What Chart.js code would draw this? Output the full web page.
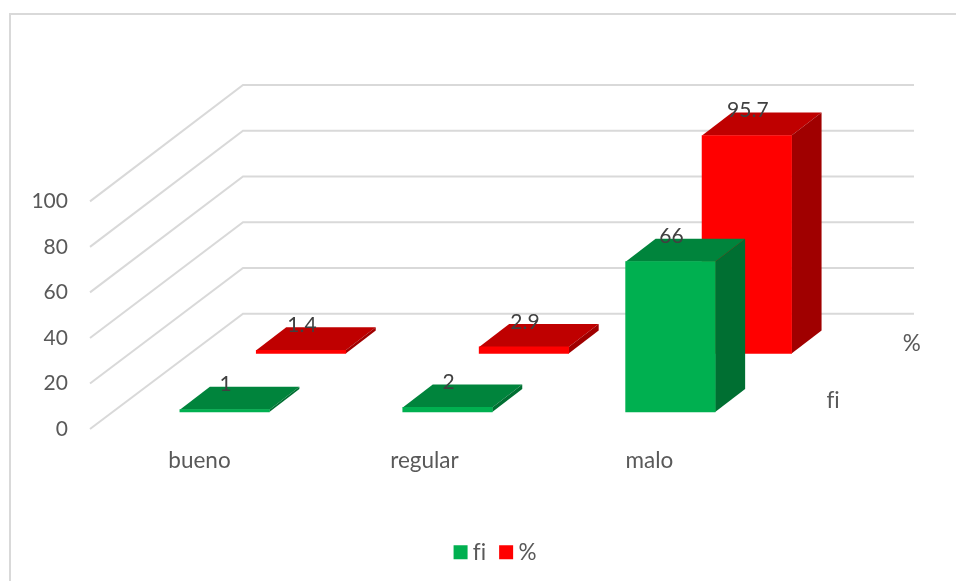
<!DOCTYPE html>
<html lang="es">
<head>
<meta charset="utf-8">
<title>fi y % por categoría</title>
<script src="https://cdn.jsdelivr.net/npm/chart.js@4"></script>
<style>
  html, body { margin: 0; padding: 0; background: #ffffff; overflow: hidden; }
  #box { width: 956px; height: 581px; }
</style>
</head>
<body>
<div id="box"><canvas id="chart" width="956" height="581"></canvas></div>
<script>
// Values shown by the chart
const categories = ['bueno', 'regular', 'malo'];
const fiValues = [1, 2, 66];
const pctValues = [1.4, 2.9, 95.7];
const axisTicks = [0, 20, 40, 60, 80, 100];

// Colour of each bar face per series
const faces = {
  fi: { front: '#00b050', top: '#00843c', side: '#006f32' },
  pct: { front: '#ff0000', top: '#bf0000', side: '#a00000' }
};
const TEXT = '#595959';
const VALUE_TEXT = '#404040';
const GRID = '#d9d9d9';
const FONT = 'Lato, "Open Sans", sans-serif';
const NUMBER_SIZE = 21;
const WORD_SIZE = 22.5;

// Oblique projection of a bar's depth and of the floor
const DEPTH_X = 30;
const DEPTH_Y = -23;
const FLOOR_DEPTH_X = 153;

// Sides and tops sit behind each series' front faces
const boxFaces = {
  id: 'boxFaces',
  beforeDatasetDraw(chart, args) {
    const ctx = chart.ctx;
    const colors = chart.data.datasets[args.index].faces;
    args.meta.data.forEach((bar) => {
      const half = bar.width / 2;
      const l = bar.x - half, r = bar.x + half, t = bar.y, b = bar.base;
      ctx.save();
      ctx.fillStyle = colors.top;
      ctx.beginPath();
      ctx.moveTo(l, t);
      ctx.lineTo(l + DEPTH_X, t + DEPTH_Y);
      ctx.lineTo(r + DEPTH_X, t + DEPTH_Y);
      ctx.lineTo(r, t);
      ctx.closePath();
      ctx.fill();
      ctx.fillStyle = colors.side;
      ctx.beginPath();
      ctx.moveTo(r, t);
      ctx.lineTo(r + DEPTH_X, t + DEPTH_Y);
      ctx.lineTo(r + DEPTH_X, b + DEPTH_Y);
      ctx.lineTo(r, b);
      ctx.closePath();
      ctx.fill();
      ctx.restore();
    });
  }
};

// Frame, floor diagonals and back wall lines
const wall = {
  id: 'wall',
  beforeUpdate(chart) {
    // A tiny spacing keeps "fi" as two separate letters instead of a ligature
    chart.ctx.letterSpacing = '0.01px';
  },
  afterLayout(chart) {
    // The legend is centred under the plot floor rather than the whole canvas
    chart.legend.left += 72;
  },
  beforeDraw(chart) {
    const ctx = chart.ctx;
    ctx.letterSpacing = '0.01px';
    ctx.save();
    ctx.fillStyle = '#ffffff';
    ctx.fillRect(0, 0, chart.width, chart.height);
    ctx.strokeStyle = GRID;
    ctx.lineWidth = 2;
    ctx.strokeRect(10, 14, chart.width + 20, chart.height + 20);
    ctx.restore();
  },
  beforeDatasetsDraw(chart) {
    const ctx = chart.ctx;
    const front = chart.scales.yAxis;
    const back = chart.scales.yWall;
    const area = chart.chartArea;
    const corner = area.left + FLOOR_DEPTH_X;
    ctx.save();
    ctx.strokeStyle = GRID;
    ctx.lineWidth = 2;
    axisTicks.forEach((v) => {
      const yBack = back.getPixelForValue(v);
      ctx.beginPath();
      ctx.moveTo(area.left, front.getPixelForValue(v));
      ctx.lineTo(corner, yBack);
      ctx.lineTo(area.right, yBack);
      ctx.stroke();
    });
    ctx.restore();
  },
  afterDatasetsDraw(chart) {
    const ctx = chart.ctx;
    ctx.save();
    ctx.textAlign = 'center';
    ctx.textBaseline = 'middle';
    // Value labels over each bar
    ctx.font = NUMBER_SIZE + 'px ' + FONT;
    ctx.fillStyle = VALUE_TEXT;
    [1, 0].forEach((d) => {
      const ds = chart.data.datasets[d];
      chart.getDatasetMeta(d).data.forEach((bar, i) => {
        ctx.fillText(String(ds.data[i].y), bar.x + 1, bar.y - 25);
      });
    });
    // Series names along the depth axis
    ctx.font = WORD_SIZE + 'px ' + FONT;
    ctx.fillStyle = TEXT;
    const s = chart.scales;
    ctx.fillText(chart.data.datasets[0].label, s.xFi.getPixelForValue(2.73), s.yFi.getPixelForValue(4.85));
    ctx.fillText(chart.data.datasets[1].label, s.xPct.getPixelForValue(2.74), s.yPct.getPixelForValue(4.2));
    ctx.restore();
  }
};

const toPoints = (values) => values.map((y, x) => ({ x, y }));
const hiddenScale = (axis, min, max) => ({
  axis,
  type: 'linear',
  display: false,
  offset: false,
  min,
  max,
  position: axis === 'x' ? 'bottom' : 'left'
});

new Chart(document.getElementById('chart'), {
  type: 'bar',
  data: {
    datasets: [
      {
        label: 'fi',
        data: toPoints(fiValues),
        xAxisID: 'xFi',
        yAxisID: 'yFi',
        backgroundColor: faces.fi.front,
        faces: faces.fi,
        barThickness: 89.5,
        grouped: false,
        order: 0
      },
      {
        label: '%',
        data: toPoints(pctValues),
        xAxisID: 'xPct',
        yAxisID: 'yPct',
        backgroundColor: faces.pct.front,
        faces: faces.pct,
        barThickness: 89.5,
        grouped: false,
        order: 1
      }
    ]
  },
  plugins: [wall, boxFaces],
  options: {
    responsive: false,
    animation: false,
    events: [],
    layout: { padding: { left: 10, right: 42, top: 85, bottom: 7.5 } },
    scales: {
      // One horizontal and one vertical scale per depth row
      xFi: hiddenScale('x', -0.604, 3.093),
      xPct: hiddenScale('x', -0.9466, 2.75),
      yFi: hiddenScale('y', -7.49, 143.6),
      yPct: hiddenScale('y', -33.17, 117.93),
      yWall: hiddenScale('y', -50.44, 100),
      // Visible value axis on the front edge of the floor
      yAxis: {
        axis: 'y',
        type: 'linear',
        position: 'left',
        min: 0,
        max: 151.1,
        grid: { display: false, drawTicks: false },
        border: { display: false },
        afterFit(scale) { scale.width = 80; },
        afterBuildTicks(scale) { scale.ticks = axisTicks.map((value) => ({ value })); },
        ticks: {
          padding: 22,
          color: TEXT,
          font: { family: FONT, size: NUMBER_SIZE }
        }
      },
      // Visible category axis
      xLabel: {
        axis: 'x',
        type: 'linear',
        position: 'bottom',
        offset: false,
        min: -0.4867,
        max: 3.176,
        grid: { display: false, drawTicks: false },
        border: { display: false },
        afterFit(scale) { scale.height = 93; },
        afterBuildTicks(scale) { scale.ticks = categories.map((c, value) => ({ value })); },
        ticks: {
          padding: 18,
          color: TEXT,
          maxRotation: 0,
          autoSkip: false,
          font: { family: FONT, size: WORD_SIZE },
          callback: (value) => categories[value]
        }
      }
    },
    plugins: {
      tooltip: { enabled: false },
      title: { display: false },
      legend: {
        display: true,
        position: 'bottom',
        labels: {
          usePointStyle: true,
          pointStyle: 'rect',
          boxWidth: 2,
          boxHeight: 14,
          padding: 19,
          color: TEXT,
          font: { family: FONT, size: WORD_SIZE }
        }
      }
    }
  }
});
</script>
</body>
</html>
